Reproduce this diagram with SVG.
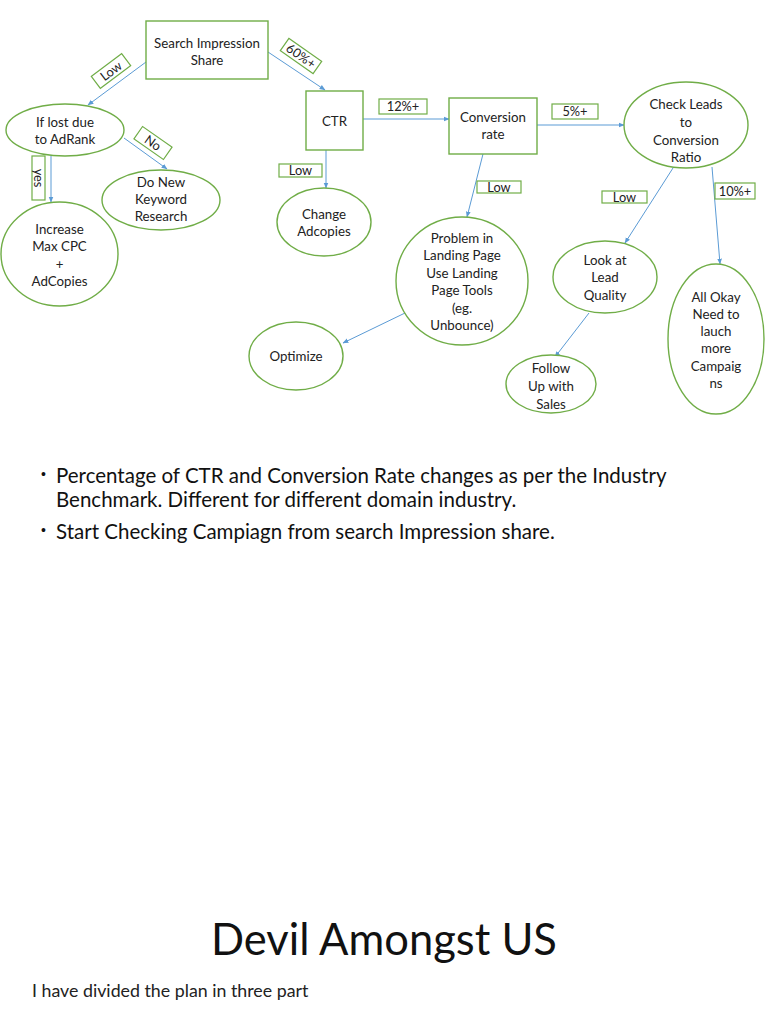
<svg xmlns="http://www.w3.org/2000/svg" width="768" height="1024" viewBox="0 0 768 1024">
<defs>
<marker id="arr" viewBox="0 0 10 10" refX="9" refY="5" markerWidth="6" markerHeight="6" orient="auto" markerUnits="userSpaceOnUse">
<path d="M0,1 L10,5 L0,9 z" fill="#5B9BD5"/>
</marker>
<style>
.nd{fill:#fff;stroke:#70AD47;stroke-width:1.4}
.lb{fill:#fff;stroke:#70AD47;stroke-width:1.2}
.t{font-family:Lato,"Liberation Sans",sans-serif;font-size:13.3px;fill:#222;text-anchor:middle}
.lt{font-family:Lato,"Liberation Sans",sans-serif;font-size:12.8px;fill:#222;text-anchor:middle}
.c{stroke:#5B9BD5;stroke-width:1;fill:none;marker-end:url(#arr)}
.b{font-family:Lato,"Liberation Sans",sans-serif;font-size:20.5px;fill:#111}
.d{font-family:"Liberation Sans",sans-serif;font-size:14px;fill:#111}
</style>
</defs>
<rect width="768" height="1024" fill="#fff"/>

<g id="connectors">
<line class="c" x1="146" y1="62" x2="88" y2="105"/>
<line class="c" x1="268" y1="52" x2="325" y2="90"/>
<line class="c" x1="51" y1="156" x2="51" y2="202"/>
<line class="c" x1="124" y1="138" x2="167" y2="169"/>
<line class="c" x1="326" y1="150" x2="326" y2="188"/>
<line class="c" x1="363" y1="119" x2="449" y2="119"/>
<line class="c" x1="537" y1="125" x2="624" y2="125"/>
<line class="c" x1="483" y1="154" x2="467" y2="217"/>
<line class="c" x1="405" y1="313" x2="343" y2="343"/>
<line class="c" x1="673" y1="168" x2="625" y2="243"/>
<line class="c" x1="712" y1="167" x2="720" y2="264"/>
<line class="c" x1="589" y1="313" x2="555" y2="357"/>
</g>

<g id="search-impression-share">
<rect class="nd" x="146" y="21" width="122" height="58"/>
<text class="t" x="207" y="47.5">Search Impression</text>
<text class="t" x="207" y="64.5">Share</text>
</g>
<g id="if-lost">
<ellipse class="nd" cx="65" cy="130" rx="59" ry="26"/>
<text class="t" x="65" y="126.5">If lost due</text>
<text class="t" x="65" y="143.5">to AdRank</text>
</g>
<g id="increase-max-cpc">
<ellipse class="nd" cx="59.5" cy="254" rx="58.5" ry="52"/>
<text class="t" x="59.5" y="233.5">Increase</text>
<text class="t" x="59.5" y="250.5">Max CPC</text>
<text class="t" x="59.5" y="268.5">+</text>
<text class="t" x="59.5" y="285.5">AdCopies</text>
</g>
<g id="keyword-research">
<ellipse class="nd" cx="161" cy="200" rx="59" ry="30"/>
<text class="t" x="161" y="186.5">Do New</text>
<text class="t" x="161" y="203.5">Keyword</text>
<text class="t" x="161" y="220.5">Research</text>
</g>
<g id="ctr">
<rect class="nd" x="306" y="91" width="57" height="59"/>
<text class="t" x="334.5" y="125.5">CTR</text>
</g>
<g id="change-adcopies">
<ellipse class="nd" cx="324" cy="222" rx="47" ry="34"/>
<text class="t" x="324" y="218.5">Change</text>
<text class="t" x="324" y="235.5">Adcopies</text>
</g>
<g id="conversion-rate">
<rect class="nd" x="449" y="98" width="88" height="56"/>
<text class="t" x="493" y="121.5">Conversion</text>
<text class="t" x="493" y="138.5">rate</text>
</g>
<g id="check-leads">
<ellipse class="nd" cx="686" cy="125" rx="62" ry="43"/>
<text class="t" x="686" y="108.5">Check Leads</text>
<text class="t" x="686" y="126.5">to</text>
<text class="t" x="686" y="144.5">Conversion</text>
<text class="t" x="686" y="161.5">Ratio</text>
</g>
<g id="landing-page">
<ellipse class="nd" cx="462" cy="281" rx="66" ry="64"/>
<text class="t" x="462" y="242.5">Problem in</text>
<text class="t" x="462" y="259.5">Landing Page</text>
<text class="t" x="462" y="277.5">Use Landing</text>
<text class="t" x="462" y="294.5">Page Tools</text>
<text class="t" x="462" y="312.5">(eg.</text>
<text class="t" x="462" y="329.5">Unbounce)</text>
</g>
<g id="optimize">
<ellipse class="nd" cx="296" cy="356" rx="47" ry="34"/>
<text class="t" x="296" y="360.5">Optimize</text>
</g>
<g id="lead-quality">
<ellipse class="nd" cx="605" cy="277" rx="52" ry="36"/>
<text class="t" x="605" y="264.5">Look at</text>
<text class="t" x="605" y="281.5">Lead</text>
<text class="t" x="605" y="299.5">Quality</text>
</g>
<g id="follow-up">
<ellipse class="nd" cx="551" cy="384" rx="45" ry="29"/>
<text class="t" x="551" y="372.5">Follow</text>
<text class="t" x="551" y="390.5">Up with</text>
<text class="t" x="551" y="408.5">Sales</text>
</g>
<g id="all-okay">
<ellipse class="nd" cx="716" cy="339" rx="48" ry="75"/>
<text class="t" x="716" y="301.5">All Okay</text>
<text class="t" x="716" y="318.5">Need to</text>
<text class="t" x="716" y="335.5">lauch</text>
<text class="t" x="716" y="352.5">more</text>
<text class="t" x="716" y="370.5">Campaig</text>
<text class="t" x="716" y="387.5">ns</text>
</g>

<g id="labels">
<g transform="translate(111,71) rotate(-37)">
<rect class="lb" x="-19" y="-7.5" width="38" height="15"/>
<text class="lt" x="0" y="4.5">Low</text>
</g>
<g transform="translate(301,56) rotate(35)">
<rect class="lb" x="-20" y="-7.5" width="40" height="15"/>
<text class="lt" x="0" y="4.5">60%+</text>
</g>
<g transform="translate(153,143) rotate(35)">
<rect class="lb" x="-18" y="-7.5" width="36" height="15"/>
<text class="lt" x="0" y="4.5">No</text>
</g>
<g transform="translate(38.5,178) rotate(90)">
<rect class="lb" x="-22" y="-6.5" width="44" height="13"/>
<text class="lt" x="0" y="4.5">yes</text>
</g>
<rect class="lb" x="279" y="164" width="43" height="13"/>
<text class="lt" x="300.5" y="175">Low</text>
<rect class="lb" x="379" y="99" width="48" height="15"/>
<text class="lt" x="403" y="111">12%+</text>
<rect class="lb" x="552" y="104" width="46" height="15"/>
<text class="lt" x="575" y="116">5%+</text>
<rect class="lb" x="477" y="181" width="44" height="12"/>
<text class="lt" x="499" y="191.5">Low</text>
<rect class="lb" x="602" y="191" width="45" height="12"/>
<text class="lt" x="624.5" y="201.5">Low</text>
<rect class="lb" x="715" y="183" width="40" height="16"/>
<text class="lt" x="735" y="195.5">10%+</text>
</g>

<g id="notes">
<text class="d" x="41" y="479">•</text>
<text class="b" x="56" y="483">Percentage of CTR and Conversion Rate changes as per the Industry</text>
<text class="b" x="56" y="507">Benchmark. Different for different domain industry.</text>
<text class="d" x="41" y="535">•</text>
<text class="b" x="56" y="539">Start Checking Campiagn from search Impression share.</text>
<text x="384" y="955" font-family="Lato,'Liberation Sans',sans-serif" font-size="43.5" fill="#111" text-anchor="middle">Devil Amongst US</text>
<text x="32" y="997" font-family="Lato,'Liberation Sans',sans-serif" font-size="17.8" fill="#222">I have divided the plan in three part</text>
</g>
</svg>
